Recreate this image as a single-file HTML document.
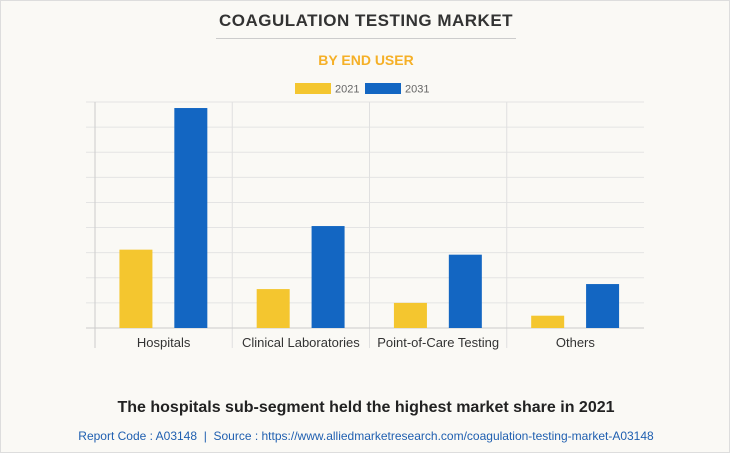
<!DOCTYPE html>
<html><head><meta charset="utf-8"><style>
body{margin:0;background:#fff;font-family:"Liberation Sans",Arial,sans-serif;}
#wrap{position:relative;width:728px;height:451px;border:1px solid #ddd;background:#faf9f5;overflow:hidden}
.t{position:absolute;left:0;width:730px;text-align:center}
</style></head><body>
<div id="wrap">
<div class="t" style="top:10px;font-size:17px;font-weight:bold;color:#333;letter-spacing:0.5px">COAGULATION TESTING MARKET</div>
<div style="position:absolute;left:215px;top:37px;width:300px;height:1px;background:#ccc"></div>
<div class="t" style="top:51px;font-size:14px;font-weight:bold;color:#f5b027">BY END USER</div>
<svg id="chart" width="730" height="380" style="position:absolute;left:0;top:0"></svg>
<div class="t" style="top:398px;font-size:16px;font-weight:bold;color:#222">The hospitals sub-segment held the highest market share in 2021</div>
<div class="t" style="top:428px;font-size:12px;color:#1f5fb0">Report Code : A03148 &nbsp;|&nbsp; Source : https://www.alliedmarketresearch.com/coagulation-testing-market-A03148</div>
</div>
<script>
const categories=["Hospitals","Clinical Laboratories","Point-of-Care Testing","Others"];
const series2021=[31.2,15.5,10,4.9];
const series2031=[87.6,40.6,29.2,17.5];
const seriesNames=["2021","2031"];
const yMax=90, gridCount=9;
const svg=document.getElementById('chart');
const NS='http://www.w3.org/2000/svg';
const x0=94,x1=643,y0=327,y1=101;
const bandW=(x1-x0)/categories.length;
const yS=v=>y0-(v/yMax)*(y0-y1);
function mk(t,a){const e=document.createElementNS(NS,t);for(const k in a)e.setAttribute(k,a[k]);svg.appendChild(e);return e;}
for(let i=1;i<=gridCount;i++){const y=yS(yMax*i/gridCount);
const g=mk('line',{x1:85,x2:x1,y1:y,y2:y,stroke:'#e4e4e4','stroke-width':1});

}
for(let i=1;i<categories.length;i++){const x=x0+bandW*i;
const s=mk('line',{x1:x,x2:x,y1:y1,y2:y0+20,stroke:'#e0e0e0','stroke-width':1});

}
const ax=mk('line',{x1:x0,x2:x0,y1:y1,y2:y0+20,stroke:'#ccc'});


const bx=mk('line',{x1:85,x2:x1,y1:y0,y2:y0,stroke:'#ccc'});


const colors=['#f4c62f','#1366c2'];
categories.forEach((c,i)=>{
 const cx=x0+bandW*i;
 [series2021,series2031].forEach((s,j)=>{
  const bxp=cx+bandW*(j===0?0.178:0.578);
  const r=mk('rect',{x:bxp,y:yS(s[i]),width:33,height:y0-yS(s[i]),fill:colors[j]});
  
  
 });
 const t=mk('text',{x:cx+bandW/2,y:346,'text-anchor':'middle','font-size':13,fill:'#333','font-family':'Liberation Sans, sans-serif'});
 t.textContent=c;
 
 
});
seriesNames.forEach((n,j)=>{
 const lx=294+j*70;
 const r=mk('rect',{x:lx,y:82,width:36,height:11,fill:colors[j]});
 
 
 const t=mk('text',{x:lx+40,y:91.5,'font-size':11,fill:'#666','font-family':'Liberation Sans, sans-serif'});
 t.textContent=n;
 
 
});
</script>
</body></html>
